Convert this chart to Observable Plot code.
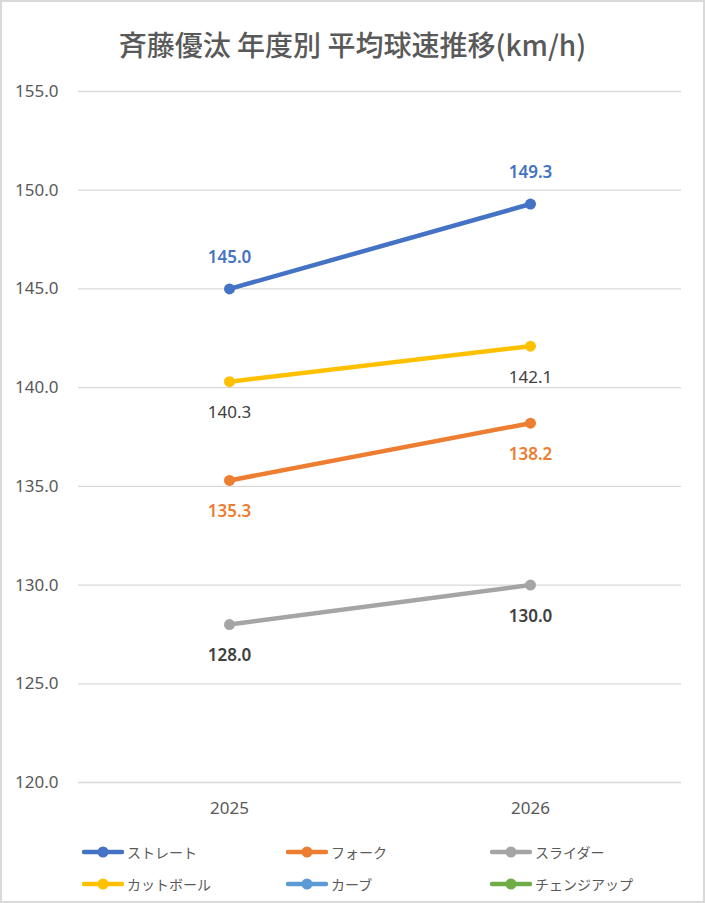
<!DOCTYPE html>
<html>
<head>
<meta charset="utf-8">
<script src="https://cdn.jsdelivr.net/npm/d3@7"></script>
<script src="https://cdn.jsdelivr.net/npm/@observablehq/plot@0.6"></script>
<style>
  html, body { margin: 0; padding: 0; background: #fff; }
  #wrap { position: relative; width: 705px; height: 903px; overflow: hidden; background: #fff;
          font-family: "Noto Sans", "Noto Sans CJK JP", sans-serif; }
  #frame { position: absolute; left: 0; top: 0; width: 705px; height: 903px; box-sizing: border-box;
           border: 2px solid #d9d9d9; pointer-events: none; }
  #title { position: absolute; left: 0; width: 705px; top: 24px; text-align: center;
           font-family: "Noto Sans CJK JP", sans-serif; font-weight: 500; font-size: 28px;
           color: #595959; line-height: 40px; }
  #chart { position: absolute; left: 0; top: 70px; }
  .leg { position: absolute; display: flex; align-items: center; height: 24px;
         font-family: "Noto Sans CJK JP", sans-serif; font-size: 14px; color: #595959; }
  .leg svg { margin-right: 3px; }
</style>
</head>
<body>
<div id="wrap">
  <div id="title">斉藤優汰 年度別 平均球速推移(km/h)</div>
  <div id="chart"></div>
  <div id="legend"></div>
  <div id="frame"></div>
</div>
<script>
// ---- data ----
const years = ["2025", "2026"];
const seriesNames = ["ストレート", "フォーク", "スライダー", "カットボール", "カーブ", "チェンジアップ"];
const straight = [145.0, 149.3];
const fork = [135.3, 138.2];
const slider = [128.0, 130.0];
const cutter = [140.3, 142.1];
const curve = [null, null];
const changeup = [null, null];
const yTicks = [120, 125, 130, 135, 140, 145, 150, 155];

// ---- styles (separate from data) ----
const colors = ["#4472C4", "#ED7D31", "#A5A5A5", "#FFC000", "#5B9BD5", "#70AD47"];
const labelSide = { "ストレート": -1, "フォーク": 1, "スライダー": 1, "カットボール": 1 };
const labelColor = { "ストレート": "#4472C4", "フォーク": "#ED7D31", "スライダー": "#404040", "カットボール": "#404040" };
const labelWeight = { "ストレート": 600, "フォーク": 600, "スライダー": 600, "カットボール": 400 };

const seriesValues = [straight, fork, slider, cutter, curve, changeup];
const rows = [];
seriesNames.forEach((s, i) => {
  years.forEach((y, j) => {
    const v = seriesValues[i][j];
    if (v != null) rows.push({ series: s, year: y, value: v });
  });
});

const textMarks = seriesNames.filter(s => labelSide[s] !== undefined).map(s =>
  Plot.text(rows.filter(r => r.series === s), {
    x: "year", y: "value", text: d => d.value.toFixed(1),
    dy: labelSide[s] * 31, fill: labelColor[s], fontWeight: labelWeight[s], fontSize: 17
  })
);

const chart = Plot.plot({
  width: 705, height: 750,
  marginLeft: 78, marginRight: 24, marginTop: 21, marginBottom: 38,
  style: { fontFamily: "'Noto Sans', 'Noto Sans CJK JP', sans-serif", fontSize: "17px", color: "#595959", background: "transparent" },
  x: { type: "point", domain: years, padding: 0.5, label: null },
  y: { domain: [120, 155], label: null },
  color: { domain: seriesNames, range: colors },
  marks: [
    Plot.gridY(yTicks, { stroke: "#d9d9d9", strokeOpacity: 1, strokeWidth: 1.3 }),
    Plot.axisY(yTicks, { tickSize: 0, tickPadding: 20, tickFormat: d => d.toFixed(1), label: null, fill: "#595959" }),
    Plot.axisX({ tickSize: 0, tickPadding: 19, label: null, fill: "#595959" }),
    Plot.line(rows, { x: "year", y: "value", z: "series", stroke: "series", strokeWidth: 4.5, strokeLinecap: "round" }),
    Plot.dot(rows, { x: "year", y: "value", fill: "series", r: 5.5 }),
    ...textMarks
  ]
});
document.getElementById("chart").appendChild(chart);

// ---- legend ----
const legendCols = [82, 286, 490];
const legendRows = [852, 884];
const legend = document.getElementById("legend");
seriesNames.forEach((s, i) => {
  const el = document.createElement("div");
  el.className = "leg";
  el.style.left = legendCols[i % 3] + "px";
  el.style.top = (legendRows[Math.floor(i / 3)] - 12) + "px";
  el.innerHTML = `<svg width="42" height="14"><line x1="2" x2="40" y1="7" y2="7" stroke="${colors[i]}" stroke-width="4.5" stroke-linecap="round"/><circle cx="21" cy="7" r="5.5" fill="${colors[i]}"/></svg><span>${s}</span>`;
  legend.appendChild(el);
});
</script>
</body>
</html>
